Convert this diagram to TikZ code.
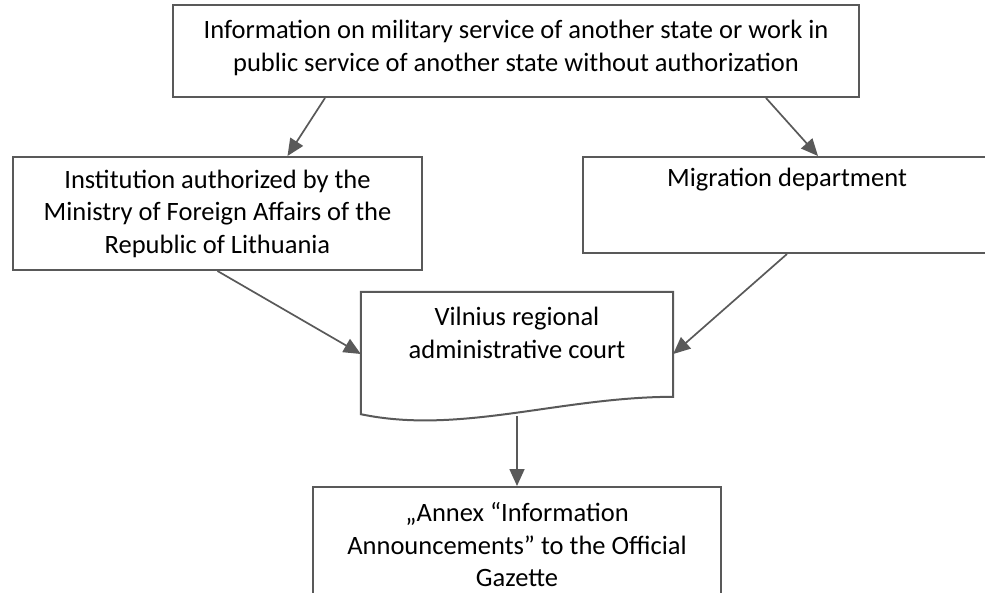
\documentclass[tikz,border=0pt]{standalone}
\usepackage{fontspec}
\setmainfont{Carlito}
\usetikzlibrary{arrows.meta, positioning, calc}
\definecolor{edgegray}{RGB}{89,89,89}

\begin{document}
\begin{tikzpicture}[
    x=1pt, y=-1pt,
    font=\fontsize{26.5}{32.5}\selectfont,
    infobox/.style={rectangle, draw=edgegray, line width=2pt, fill=white, align=center, inner sep=0pt},
    courtbox/.style={rectangle, inner sep=0pt},
    plaintext/.style={align=center, inner sep=0pt},
    arr/.style={-{Triangle[length=17pt, width=15pt]}, line width=1.7pt, draw=edgegray}
]
\useasboundingbox (0,0) rectangle (985,593);
\node[infobox, minimum width=686pt, minimum height=92pt] (info) at (516,51) {};
\node[plaintext] (infotext) at ($(info.center)+(0,-3)$) {Information on military service of another state or work in\\public service of another state without authorization};
\node[infobox, minimum width=409pt, minimum height=113pt] (inst) at (217.5,213.5) {Institution authorized by the\\Ministry of Foreign Affairs of the\\Republic of Lithuania};
\node[infobox, minimum width=408pt, minimum height=96pt] (mig) at (787,205) {};
\node[plaintext] (migtext) at ($(mig.north)+(0,24)$) {Migration department};
\node[courtbox, minimum width=312pt, minimum height=124pt] (court) at (517,354) {};
\draw[edgegray, line width=2pt] (court.north west) -- (court.north east) -- ($(court.north east)+(0,105)$)
    .. controls (560,397) and (460,435) .. ($(court.south west)+(0,-2)$) -- cycle;
\node[plaintext] (courttext) at ($(court.north)+(0,41)$) {Vilnius regional\\administrative court};
\node[infobox, minimum width=408pt, minimum height=116pt] (gaz) at (517,545) {„Annex “Information\\Announcements” to the Official\\Gazette};
% connectors
\draw[arr] ([xshift=-191pt]info.south) -- ([xshift=70pt]inst.north);
\draw[arr] ([xshift=250pt]info.south) -- ([xshift=31pt]mig.north);
\draw[arr] (inst.south) -- (court.west);
\draw[arr] (mig.south) -- (court.east);
\draw[arr] (court.south) -- (gaz.north);
\end{tikzpicture}
\end{document}
